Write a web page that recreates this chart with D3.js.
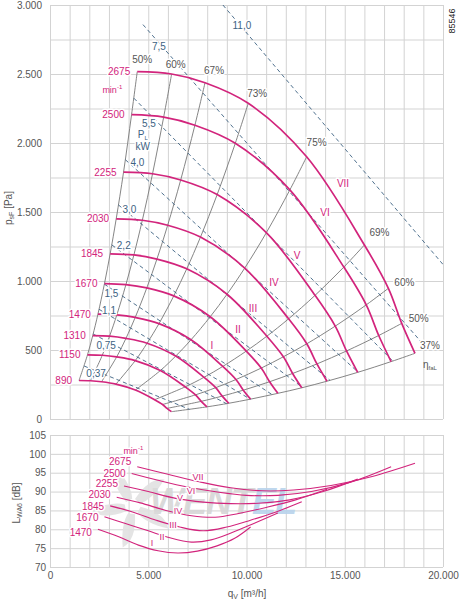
<!DOCTYPE html>
<html>
<head>
<meta charset="utf-8">
<script src="https://cdn.jsdelivr.net/npm/d3@7"></script>
<style>
html, body { margin: 0; padding: 0; background: #fff; }
svg { display: block; font-family: "Liberation Sans", Arial, Helvetica, sans-serif; }
</style>
</head>
<body>
<div id="chart"></div>
<script>
// ---- data ----
const speeds = [890, 1150, 1310, 1470, 1670, 1845, 2030, 2255, 2500, 2675];

// flow [m3/h] of each speed curve where it meets the efficiency lines (left to right)
const speedFlow = [
    [1477, 2060, 2625, 3357, 4345, 5323, 5729, 5956, 6180],
    [1909, 2661, 3392, 4338, 5615, 6879, 7403, 7695, 7986],
    [2174, 3031, 3864, 4941, 6396, 7836, 8433, 8766, 9097],
    [2440, 3402, 4336, 5545, 7177, 8793, 9463, 9837, 10208],
    [2772, 3864, 4926, 6299, 8153, 9989, 10750, 11175, 11596],
    [3062, 4269, 5442, 6959, 9008, 11036, 11877, 12346, 12812],
    [3369, 4698, 5988, 7657, 9911, 12142, 13068, 13584, 14096],
    [3743, 5218, 6651, 8506, 11009, 13488, 14516, 15090, 15659],
    [4150, 5785, 7374, 9430, 12206, 14953, 16094, 16729, 17360],
    [4440, 6190, 7890, 10090, 13060, 16000, 17220, 17900, 18575]
];
// pressure [Pa] at the same points
const speedPressure = [
    [279, 277, 270, 253, 210, 140, 105, 77, 53],
    [465, 462, 450, 423, 351, 233, 175, 128, 88],
    [604, 600, 584, 549, 456, 302, 227, 166, 114],
    [760, 755, 736, 691, 574, 381, 286, 209, 144],
    [981, 974, 950, 892, 741, 492, 369, 270, 186],
    [1197, 1189, 1159, 1088, 904, 600, 451, 330, 226],
    [1450, 1440, 1404, 1318, 1094, 726, 545, 399, 274],
    [1789, 1777, 1732, 1626, 1350, 896, 673, 493, 338],
    [2205, 2188, 2129, 1998, 1660, 1101, 827, 605, 416],
    [2517, 2500, 2437, 2288, 1900, 1261, 947, 693, 476]
];

const effLabels = ["50%", "60%", "67%", "73%", "75%", "69%", "60%", "50%", "37%"];

const powerLabels = ["0,37", "0,75", "1,1", "1,5", "2,2", "3,0", "4,0", "5,5", "7,5", "11,0"];
const powerStart = [[1735, 384], [2196, 616], [2495, 795], [2766, 977], [3144, 1262],
    [3485, 1551], [3836, 1879], [4267, 2325], [4731, 2858], [8800, 3000]];
const powerEnd = [[7096, 70], [8981, 111], [10200, 143], [11310, 176], [12860, 228],
    [14250, 280], [15680, 339], [17442, 420], [18850, 565], [20000, 1120]];

const romanLabels = ["I", "II", "III", "IV", "V", "VI", "VII"];
const romanTop = [[8244, 536], [9567, 645], [10331, 804], [11399, 986], [12570, 1188], [13995, 1493], [14911, 1710]];

const soundSpeeds = [1470, 1670, 1845, 2030, 2255, 2500, 2675];
const soundFlow = [
    [2440, 3500, 4500, 5500, 6500, 7500, 8500, 9400, 10208],
    [2772, 3800, 5000, 6000, 7200, 8200, 9300, 10400, 11596],
    [3062, 4200, 5400, 6600, 7800, 9000, 10200, 11500, 12812],
    [3394, 4600, 5900, 7200, 8400, 9600, 11000, 12500, 14096],
    [3766, 5000, 6400, 7800, 9200, 10600, 12200, 13900, 15659],
    [4157, 5500, 7000, 8600, 10000, 11600, 13300, 15300, 17360],
    [4440, 6000, 7600, 9200, 10800, 12400, 14300, 16400, 18575]
];
const soundLevel = [
    [80.0, 78.0, 75.8, 74.3, 73.7, 74.2, 75.6, 77.6, 80.6],
    [83.3, 81.6, 79.6, 77.9, 76.6, 77.2, 79.2, 81.6, 84.3],
    [86.2, 84.6, 82.4, 80.6, 79.6, 80.6, 82.4, 84.6, 87.3],
    [88.5, 87.0, 85.0, 83.6, 83.2, 84.2, 85.8, 87.8, 90.6],
    [91.5, 90.0, 88.2, 87.2, 86.8, 86.9, 87.8, 90.0, 93.3],
    [94.8, 93.0, 91.2, 89.8, 89.0, 89.0, 90.0, 92.5, 96.6],
    [96.6, 94.6, 92.6, 91.0, 90.2, 90.4, 91.6, 94.0, 97.5]
];
const romanBottom = [[5191, 76.4], [5700, 78.0], [6260, 81.1], [6514, 84.85], [6616, 88.3], [7176, 90.2], [7532, 93.9]];

const flowTicks = [0, 5000, 10000, 15000, 20000];
const pressureTicks = [0, 500, 1000, 1500, 2000, 2500, 3000];
const levelTicks = [70, 75, 80, 85, 90, 95, 100, 105];

// ---- layout ----
const magenta = "#d2247c";
const blue = "#3d6282";
const grey = "#777";
const txt = "#555";

// label offsets in px (relative to anchor points)
const effLabelOffset = [[5, -12], [4, -10], [9, -12], [9, -10], [10, -14], [15, -12], [16, -6], [17, -5], [15, -8]];
const powerLabelOffset = [[12, 7], [13, 12], [10, 1], [7, 9], [12, 1], [11, 5], [12, 3], [15, 25], [16, 22], [19, 20]];
const soundLabelDy = [7.2, 3.8, 4.5, 1.2, 1.5, 3.2, -1.2];

const de = d3.formatLocale({ decimal: ",", thousands: ".", grouping: [3], currency: ["", ""] });
const fmt = de.format(",.0f");

const svg = d3.select("#chart").append("svg")
    .attr("width", 463)
    .attr("height", 606);

const x = d3.scaleLinear().domain([0, 20000]).range([50, 443]);
const yP = d3.scaleLinear().domain([0, 3000]).range([419, 5]);
const yL = d3.scaleLinear().domain([70, 105]).range([567, 435]);

const halo = sel => sel.attr("paint-order", "stroke").attr("stroke", "#fff")
    .attr("stroke-width", 3).attr("stroke-linejoin", "round");

// grids
const styleGrid = g => {
    g.select(".domain").remove();
    g.selectAll("line").attr("stroke", "#d3d3d3").attr("stroke-width", 1);
};

svg.append("g").attr("transform", `translate(0,${yP(3000)})`)
    .call(d3.axisBottom(x).tickValues(d3.range(0, 20001, 1000)).tickSize(yP(0) - yP(3000)).tickFormat(""))
    .call(styleGrid);
svg.append("g").attr("transform", `translate(${x(0)},0)`)
    .call(d3.axisRight(yP).tickValues(d3.range(0, 3001, 250)).tickSize(x(20000) - x(0)).tickFormat(""))
    .call(styleGrid);

svg.append("g").attr("transform", `translate(0,${yL(105)})`)
    .call(d3.axisBottom(x).tickValues(d3.range(0, 20001, 1000)).tickSize(yL(70) - yL(105)).tickFormat(""))
    .call(styleGrid);
svg.append("g").attr("transform", `translate(${x(0)},0)`)
    .call(d3.axisRight(yL).tickValues(levelTicks).tickSize(x(20000) - x(0)).tickFormat(""))
    .call(styleGrid);

// axis labels
const styleTicks = g => {
    g.select(".domain").remove();
    g.selectAll("line").remove();
    g.selectAll("text").attr("font-size", 10).attr("fill", txt)
        .attr("font-family", "'Liberation Sans', Arial, sans-serif");
};
svg.append("g").attr("transform", `translate(${x(0)},0)`)
    .call(d3.axisLeft(yP).tickValues(pressureTicks).tickFormat(fmt).tickSize(0).tickPadding(8))
    .call(styleTicks);
svg.append("g").attr("transform", `translate(${x(0)},0)`)
    .call(d3.axisLeft(yL).tickValues(levelTicks).tickFormat(fmt).tickSize(0).tickPadding(4))
    .call(styleTicks);
svg.append("g").attr("transform", `translate(0,${yL(70)})`)
    .call(d3.axisBottom(x).tickValues(flowTicks).tickFormat(fmt).tickSize(0).tickPadding(5))
    .call(styleTicks);

// axis titles
const yTitle = svg.append("text")
    .attr("transform", "translate(12,208) rotate(-90)")
    .attr("text-anchor", "middle").attr("font-size", 10).attr("fill", txt);
yTitle.append("tspan").text("p");
yTitle.append("tspan").attr("font-size", 7).attr("dy", 2).text("sF");
yTitle.append("tspan").attr("dy", -2).text(" [Pa]");

const lTitle = svg.append("text")
    .attr("transform", "translate(20,503) rotate(-90)")
    .attr("text-anchor", "middle").attr("font-size", 10).attr("fill", txt);
lTitle.append("tspan").text("L");
lTitle.append("tspan").attr("font-size", 7).attr("dy", 2).text("WA6");
lTitle.append("tspan").attr("dy", -2).text(" [dB]");

const xTitle = svg.append("text")
    .attr("x", 247).attr("y", 597)
    .attr("text-anchor", "middle").attr("font-size", 10).attr("fill", txt);
xTitle.append("tspan").text("q");
xTitle.append("tspan").attr("font-size", 7).attr("dy", 2).text("V");
xTitle.append("tspan").attr("dy", -2).text(" [m³/h]");

svg.append("text")
    .attr("transform", "translate(455,21) rotate(-90)")
    .attr("text-anchor", "middle").attr("font-size", 9).attr("fill", "#222")
    .text("85546");

// ---- watermark in sound plot ----
const wm = svg.append("g").attr("opacity", 0.9);
const fanC = [x(4200), yL(86)];
d3.range(5).forEach(i => {
    const a = i * 72 * Math.PI / 180;
    const r1 = 8, r2 = 42;
    const p = d3.path();
    p.moveTo(fanC[0] + r1 * Math.cos(a), fanC[1] + r1 * Math.sin(a));
    p.quadraticCurveTo(fanC[0] + r2 * 0.8 * Math.cos(a + 0.2), fanC[1] + r2 * 0.8 * Math.sin(a + 0.2),
        fanC[0] + r2 * Math.cos(a + 0.55), fanC[1] + r2 * Math.sin(a + 0.55));
    p.quadraticCurveTo(fanC[0] + r2 * 0.5 * Math.cos(a + 0.9), fanC[1] + r2 * 0.5 * Math.sin(a + 0.9),
        fanC[0] + r1 * Math.cos(a + 0.9), fanC[1] + r1 * Math.sin(a + 0.9));
    p.closePath();
    wm.append("path").attr("d", p.toString()).attr("fill", "#e2e2e2");
});
const wmText = wm.append("text")
    .attr("x", 150).attr("y", 514)
    .attr("font-size", 36).attr("font-weight", "bold").attr("font-style", "italic")
    .attr("letter-spacing", -1);
wmText.append("tspan").attr("fill", "#d6d6d6").text("WENT");
wmText.append("tspan").attr("fill", "#b9d3ec").text("EL");

// ---- characteristic map ----
const speedPts = speeds.map((n, i) => speedFlow[i].map((q, j) => [q, speedPressure[i][j]]));

const smooth = d3.line()
    .x(d => x(d[0]))
    .y(d => yP(d[1]))
    .curve(d3.curveCatmullRom.alpha(0.5));

// efficiency lines (gray), through the same index on every speed curve
const effLines = effLabels.map((lab, j) => speedPts.map(row => row[j]));
svg.append("g").selectAll("path")
    .data(effLines)
    .join("path")
    .attr("d", smooth)
    .attr("fill", "none")
    .attr("stroke", grey)
    .attr("stroke-width", 0.9);

// power lines (dashed)
svg.append("clipPath").attr("id", "plotClip").append("rect")
    .attr("x", x(0)).attr("y", yP(3000)).attr("width", x(20000) - x(0)).attr("height", yP(0) - yP(3000));
svg.append("g").attr("clip-path", "url(#plotClip)")
    .selectAll("line")
    .data(powerLabels)
    .join("line")
    .attr("x1", (d, i) => x(powerStart[i][0]))
    .attr("y1", (d, i) => yP(powerStart[i][1]))
    .attr("x2", (d, i) => x(powerEnd[i][0]))
    .attr("y2", (d, i) => yP(powerEnd[i][1]))
    .attr("stroke", blue)
    .attr("stroke-width", 0.9)
    .attr("stroke-dasharray", "4,3");

// speed curves
svg.append("g").selectAll("path")
    .data(speedPts)
    .join("path")
    .attr("d", smooth)
    .attr("fill", "none")
    .attr("stroke", magenta)
    .attr("stroke-width", 1.7);

// labels: speeds
svg.append("g").selectAll("text")
    .data(speeds)
    .join("text")
    .attr("x", (d, i) => x(speedFlow[i][0]) - 7)
    .attr("y", (d, i) => yP(speedPressure[i][0]) + 3.5)
    .attr("text-anchor", "end")
    .attr("font-size", 10)
    .attr("fill", magenta)
    .call(halo)
    .text(d => d);

const minTop = svg.append("text")
    .attr("x", x(speedFlow[9][0]) - 15).attr("y", yP(speedPressure[9][0]) + 21)
    .attr("text-anchor", "end").attr("font-size", 9).attr("fill", magenta);
minTop.append("tspan").text("min");
minTop.append("tspan").attr("font-size", 6).attr("dy", -4).text("-1");

// labels: efficiency
svg.append("g").selectAll("text")
    .data(effLabels)
    .join("text")
    .attr("x", (d, j) => x(speedFlow[9][j]) + effLabelOffset[j][0])
    .attr("y", (d, j) => yP(speedPressure[9][j]) + effLabelOffset[j][1] + 3.5)
    .attr("text-anchor", "middle")
    .attr("font-size", 10)
    .attr("fill", txt)
    .call(halo)
    .text(d => d);

const eta = svg.append("text")
    .attr("x", x(speedFlow[9][8]) + 8).attr("y", yP(speedPressure[9][8]) + 15)
    .attr("font-size", 10).attr("fill", txt);
eta.append("tspan").text("η");
eta.append("tspan").attr("font-size", 6).attr("dy", 2).text("faL");

// labels: power
svg.append("g").selectAll("text")
    .data(powerLabels)
    .join("text")
    .attr("x", (d, i) => x(powerStart[i][0]) + powerLabelOffset[i][0])
    .attr("y", (d, i) => yP(powerStart[i][1]) + powerLabelOffset[i][1] + 3.5)
    .attr("text-anchor", "middle")
    .attr("font-size", 10)
    .attr("fill", blue)
    .call(halo)
    .text(d => d);

const pl = svg.append("text")
    .attr("x", x(powerStart[7][0]) + 9).attr("y", yP(powerStart[7][1]) + 40)
    .attr("text-anchor", "middle").attr("font-size", 10).attr("fill", blue).call(halo);
pl.append("tspan").text("P");
pl.append("tspan").attr("font-size", 6).attr("dy", 2).text("L");
svg.append("text")
    .attr("x", x(powerStart[7][0]) + 9).attr("y", yP(powerStart[7][1]) + 52)
    .attr("text-anchor", "middle").attr("font-size", 10).attr("fill", blue).call(halo)
    .text("kW");

// roman numerals on speed curves
svg.append("g").selectAll("text")
    .data(romanLabels)
    .join("text")
    .attr("x", (d, i) => x(romanTop[i][0]))
    .attr("y", (d, i) => yP(romanTop[i][1]) + 3.5)
    .attr("text-anchor", "middle")
    .attr("font-size", 10)
    .attr("fill", magenta)
    .call(halo)
    .text(d => d);

// ---- sound power plot ----
const soundLine = d3.line()
    .x(d => x(d[0]))
    .y(d => yL(d[1]))
    .curve(d3.curveCatmullRom.alpha(0.5));

const soundPts = soundSpeeds.map((n, i) => soundFlow[i].map((q, j) => [q, soundLevel[i][j]]));

svg.append("g").selectAll("path")
    .data(soundPts)
    .join("path")
    .attr("d", soundLine)
    .attr("fill", "none")
    .attr("stroke", magenta)
    .attr("stroke-width", 1.1);

svg.append("g").selectAll("text")
    .data(soundSpeeds)
    .join("text")
    .attr("x", (d, i) => x(soundFlow[i][0]) - 6)
    .attr("y", (d, i) => yL(soundLevel[i][0]) + soundLabelDy[i])
    .attr("text-anchor", "end")
    .attr("font-size", 10)
    .attr("fill", magenta)
    .call(halo)
    .text(d => d);

const minBot = svg.append("text")
    .attr("x", x(soundFlow[6][0]) + 6).attr("y", yL(soundLevel[6][0]) - 13)
    .attr("text-anchor", "end").attr("font-size", 9).attr("fill", magenta).call(halo);
minBot.append("tspan").text("min");
minBot.append("tspan").attr("font-size", 6).attr("dy", -4).text("-1");

svg.append("g").selectAll("text")
    .data(romanLabels)
    .join("text")
    .attr("x", (d, i) => x(romanBottom[i][0]))
    .attr("y", (d, i) => yL(romanBottom[i][1]) + 3)
    .attr("text-anchor", "middle")
    .attr("font-size", 9)
    .attr("fill", magenta)
    .call(halo)
    .text(d => d);
</script>
</body>
</html>
